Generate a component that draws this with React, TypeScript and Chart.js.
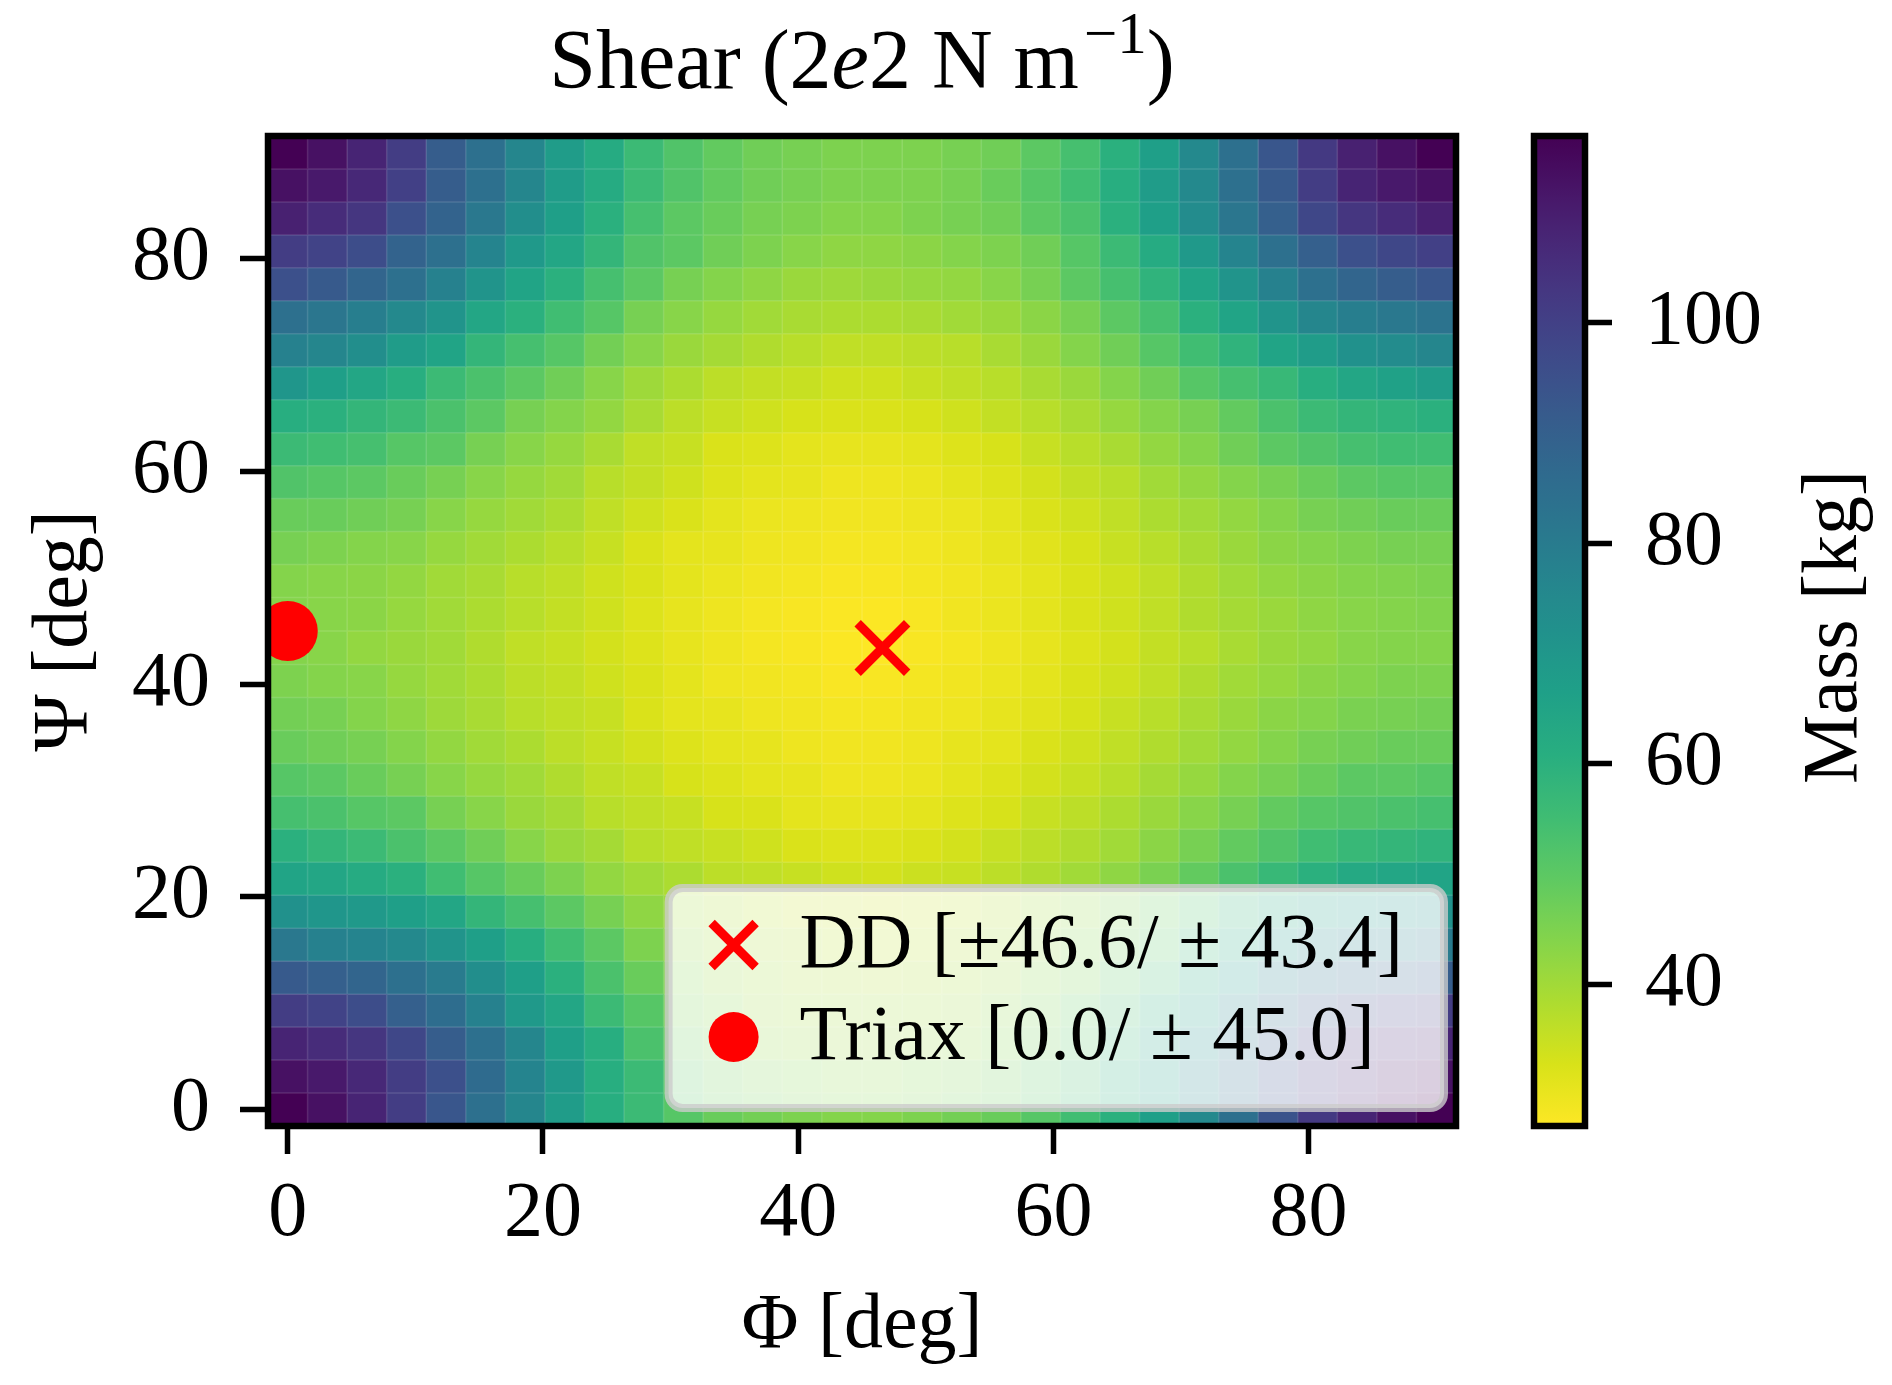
import React, { useEffect, useRef } from "react";
import { Chart, registerables } from "chart.js";

Chart.register(...registerables);

// cell centres (deg)
const PHI_DEG = [
  0.0, 3.1, 6.2, 9.3, 12.4, 15.5, 18.6, 21.7, 24.8, 27.9, 31.0, 34.1, 37.2, 40.3, 43.4,
  46.6, 49.7, 52.8, 55.9, 59.0, 62.1, 65.2, 68.3, 71.4, 74.5, 77.6, 80.7, 83.8, 86.9, 90.0,
];
// rows of MASS_KG, from the top row (90 deg) down to 0 deg
const PSI_DEG = [
  90.0, 86.9, 83.8, 80.7, 77.6, 74.5, 71.4, 68.3, 65.2, 62.1, 59.0, 55.9, 52.8, 49.7, 46.6,
  43.4, 40.3, 37.2, 34.1, 31.0, 27.9, 24.8, 21.7, 18.6, 15.5, 12.4, 9.3, 6.2, 3.1, 0.0,
];

const MASS_KG = [
  [117, 113, 108, 101, 91, 84, 76, 68, 62, 56, 52, 49, 47, 46, 45, 45, 45, 46, 47, 50, 54, 60, 67, 75, 84, 93, 102, 109, 113, 117],
  [113, 111, 107, 100, 91, 84, 76, 68, 62, 56, 52, 49, 47, 46, 45, 45, 45, 46, 48, 51, 55, 61, 68, 75, 84, 92, 101, 108, 111, 113],
  [109, 106, 103, 95, 89, 81, 73, 67, 60, 54, 50, 48, 46, 45, 44, 44, 45, 46, 47, 50, 53, 60, 67, 74, 82, 90, 98, 103, 106, 109],
  [101, 99, 96, 89, 84, 77, 69, 64, 58, 52, 50, 47, 45, 43.5, 42.5, 42.5, 43, 44, 45, 47, 51, 56, 62, 69, 77, 84, 90, 95, 98, 100],
  [95, 92, 88, 84, 78, 71, 65, 60, 54, 50, 46, 44, 42.5, 41, 40.5, 41, 41.5, 42, 43.5, 46, 50, 54, 59, 65, 71, 78, 84, 88, 91, 93],
  [84, 82, 79, 75, 71, 64, 60, 55, 51, 46, 43.5, 41.5, 40, 39, 38.5, 38.5, 39, 40, 41, 43, 46, 50, 54, 60, 65, 71, 76, 79, 81, 83],
  [78, 76, 73, 68, 65, 58, 54, 51, 46.5, 43.5, 41, 39.5, 38, 37, 36, 36, 36.5, 37, 39, 41, 44, 47, 51, 55, 59, 65, 68, 72, 74, 76],
  [70, 67, 64, 61, 56, 53, 50, 47, 43.5, 40.5, 38.5, 36.5, 35.5, 35, 34, 34, 35, 36, 37, 39, 41, 44, 47, 51, 54, 57, 61, 64, 66, 68],
  [61, 60, 58, 56, 53, 50, 46, 44, 42, 39, 36.5, 35, 34, 33, 32.5, 32.5, 33, 34, 35.5, 37, 39, 41.5, 44, 46, 49, 53, 56, 58, 59, 60],
  [56, 55, 54, 51, 50, 46, 43.5, 41.5, 39, 36, 35, 32.5, 32, 31, 30.5, 30.5, 31, 32, 33, 35, 37, 39, 42, 44, 47, 50, 52, 54, 55, 55],
  [52, 51, 50, 48, 46, 43.5, 41.5, 40, 37, 35.5, 34, 32, 31, 30.5, 29.5, 29.5, 30, 31, 32, 33.5, 35.5, 37, 40, 42, 44, 46, 48, 50, 51, 51],
  [48, 48, 47, 46, 43.5, 41.5, 40, 38.5, 36, 34, 32.5, 31, 30, 29.5, 29, 29, 29.5, 30, 31, 32.5, 34, 36, 38.5, 40, 42, 44, 46, 47, 48, 48],
  [46, 45, 44, 43.5, 41.5, 40, 38.5, 37, 35, 32.5, 31, 30.5, 29.5, 29, 28.5, 28.5, 28.8, 29.5, 30.5, 31.5, 33, 35, 37, 39, 41, 43, 44, 45, 46, 46],
  [44, 43.5, 43, 42, 40, 39, 37, 36, 34, 32.5, 31, 30, 29, 28.5, 28, 28, 28.5, 29, 30, 31, 32.5, 34, 36, 38, 40, 42, 43, 44, 44.5, 45],
  [44, 43.5, 43, 41.5, 40, 38.5, 37, 35.5, 34, 32, 30.5, 29.5, 28.5, 28, 27.6, 27.5, 28, 29, 30, 31, 32.5, 34, 36, 38, 39.5, 41, 42.5, 43.5, 44, 44.5],
  [44, 43.5, 42, 41, 40, 38, 36, 35, 33.5, 32, 30.5, 29.5, 28.5, 28, 27.5, 27.2, 28, 28.5, 29.5, 30.5, 32, 33.5, 35.5, 37, 39, 41, 42, 43.5, 44, 44],
  [45, 44, 43.5, 41.5, 40, 38.5, 36.5, 35.5, 34, 32.5, 31, 29.5, 29, 28.5, 27.8, 28, 28.5, 29, 30, 31, 32.5, 34, 36, 38, 40, 41.5, 43, 44, 45, 45],
  [46.5, 46, 44, 42.5, 40.5, 39, 37, 36, 35, 32.5, 31, 30.5, 29.5, 29, 28.5, 28.5, 29, 29.5, 30.5, 31.5, 33, 35, 37, 39, 41, 43, 44, 45.5, 46, 46.5],
  [48, 47, 46, 44, 42, 40, 38.5, 36.5, 35, 33.5, 32, 31, 30.5, 29.5, 29, 29, 29.5, 30.5, 31, 32.5, 34, 36, 38, 40, 42, 44, 46, 47, 48, 48],
  [51, 50, 48, 46, 43.5, 41.5, 40, 38, 36, 35, 33, 32, 31, 30.5, 29.5, 29.5, 30, 31, 32, 33.5, 35, 37, 39.5, 41.5, 44, 46, 48, 50, 50, 51],
  [54, 53, 51, 50, 46, 43.5, 41, 39.5, 37, 36, 35, 33, 32.5, 31, 30.5, 30.5, 31, 32, 33, 35, 36.5, 38.5, 41, 43.5, 46, 49, 51, 52, 53, 54],
  [60, 58, 56, 53, 50, 47, 43.5, 41, 39.5, 37, 36, 35, 34, 32.5, 32, 32, 32.5, 33.5, 35, 36.5, 38, 40, 43, 46, 49, 52, 55, 57, 58, 59],
  [65, 64, 62, 60, 55, 51, 48, 45, 42, 40, 38.5, 36.5, 36, 35, 34, 33.5, 34.5, 35, 36.5, 38, 40, 42.5, 45.5, 49, 53, 57, 60, 63, 64, 65],
  [72, 70, 69, 67, 64, 58, 54, 50, 46, 42.5, 40.5, 38.5, 37, 36, 35.5, 35, 35.5, 36.5, 38, 40, 42, 45, 48.5, 53, 58, 63, 67, 69, 70, 72],
  [81, 78, 77, 75, 71, 67, 61, 55, 50, 45, 42, 40, 39, 38, 37, 36.5, 37, 38, 39.5, 41.5, 44, 47, 51, 57, 63, 69, 74, 77, 78, 80],
  [92, 90, 88, 84, 80, 73, 67, 60, 53, 48, 44, 41.5, 40, 39, 38.5, 38, 38.5, 39.5, 41, 43.5, 46, 50, 55, 62, 69, 77, 83, 87, 89, 91],
  [101, 99, 96, 90, 85, 78, 69, 64, 56, 51, 46, 43.5, 41, 40.5, 40, 40, 40.5, 41, 43, 45.5, 49, 54, 60, 67, 75, 84, 92, 97, 99, 101],
  [108, 106, 103, 98, 91, 84, 76, 67, 61, 53, 48, 45, 42.5, 41.5, 41, 41, 41.5, 42.5, 44, 47, 51, 57, 64, 72, 81, 91, 99, 104, 106, 108],
  [113, 111, 107, 101, 95, 86, 77, 69, 61, 56, 50, 47, 45, 44, 43, 43, 44, 45, 47, 50, 54, 60, 67, 75, 84, 94, 102, 107, 111, 113],
  [117, 113, 108, 101, 93, 84, 76, 68, 61, 56, 51, 48, 46.5, 45, 44, 44, 45, 46.5, 48, 51, 55, 60, 67, 75, 84, 94, 102, 108, 113, 117],
];

const X_TICKS = [0, 20, 40, 60, 80];
const Y_TICKS = [0, 20, 40, 60, 80];
const MASS_TICKS = [40, 60, 80, 100];
const MASS_MIN = 27.2;
const MASS_MAX = 116.9;

const DD = { label: "DD [±46.6/ ± 43.4]", phi: 46.6, psi: 43.4 };
const TRIAX = { label: "Triax [0.0/ ± 45.0]", phi: 0.0, psi: 45.0 };

const TITLE_PARTS = [
  { text: "Shear (2", style: "normal" },
  { text: "e", style: "italic" },
  { text: "2 N m", style: "normal" },
  { text: "−1", style: "sup" },
  { text: ")", style: "normal" },
];

const FONT = '"Liberation Serif", "DejaVu Serif", serif';
const FS = 78;
const TITLE_FS = 84;
const RED = "#ff0000";
const SPINE = 6.5;

// viridis, reversed when used (low mass = yellow)
const VIRIDIS = [
  "#440154", "#48186a", "#472d7b", "#424086", "#3b528b", "#33638d", "#2c728e", "#26828e",
  "#21918c", "#1fa088", "#28ae80", "#3fbc73", "#5ec962", "#84d44b", "#addc30", "#d8e219", "#fde725",
];

const hexRgb = (h: string) => [1, 3, 5].map((i) => parseInt(h.slice(i, i + 2), 16));

function massColor(v: number) {
  const t = Math.min(1, Math.max(0, (v - MASS_MIN) / (MASS_MAX - MASS_MIN)));
  const p = (1 - t) * (VIRIDIS.length - 1);
  const i = Math.min(VIRIDIS.length - 2, Math.floor(p));
  const f = p - i;
  const a = hexRgb(VIRIDIS[i]);
  const b = hexRgb(VIRIDIS[i + 1]);
  const c = a.map((av, k) => Math.round(av + (b[k] - av) * f));
  return `rgb(${c[0]},${c[1]},${c[2]})`;
}

// cell boundaries half way between centres
function cellEdges(c: number[]) {
  const e = [c[0] - (c[1] - c[0]) / 2];
  for (let i = 1; i < c.length; i++) e.push((c[i - 1] + c[i]) / 2);
  e.push(c[c.length - 1] + (c[c.length - 1] - c[c.length - 2]) / 2);
  return e;
}

const PHI_EDGES = cellEdges(PHI_DEG);
const PSI_EDGES = cellEdges(PSI_DEG);

const heatmap = {
  id: "heatmap",
  beforeDatasetsDraw(chart: any) {
    const { ctx, chartArea: a, scales } = chart;
    const x = scales.x;
    const y = scales.y;
    ctx.save();
    ctx.beginPath();
    ctx.rect(a.left, a.top, a.right - a.left, a.bottom - a.top);
    ctx.clip();
    MASS_KG.forEach((row, r) => {
      const y0 = y.getPixelForValue(PSI_EDGES[r]);
      const y1 = y.getPixelForValue(PSI_EDGES[r + 1]);
      row.forEach((v, c) => {
        const x0 = x.getPixelForValue(PHI_EDGES[c]);
        const x1 = x.getPixelForValue(PHI_EDGES[c + 1]);
        ctx.fillStyle = massColor(v);
        ctx.fillRect(Math.min(x0, x1), Math.min(y0, y1), Math.abs(x1 - x0) + 0.7, Math.abs(y1 - y0) + 0.7);
      });
    });
    // faint seams between cells
    ctx.strokeStyle = "rgba(255,255,255,0.13)";
    ctx.lineWidth = 1.5;
    ctx.beginPath();
    PHI_EDGES.slice(1, -1).forEach((e) => {
      const px = x.getPixelForValue(e);
      ctx.moveTo(px, a.top);
      ctx.lineTo(px, a.bottom);
    });
    PSI_EDGES.slice(1, -1).forEach((e) => {
      const py = y.getPixelForValue(e);
      ctx.moveTo(a.left, py);
      ctx.lineTo(a.right, py);
    });
    ctx.stroke();
    ctx.restore();
  },
};

const frame = {
  id: "frame",
  afterDatasetsDraw(chart: any) {
    const { ctx, chartArea: a } = chart;
    ctx.save();
    ctx.strokeStyle = "#000";
    ctx.lineWidth = SPINE;
    ctx.strokeRect(a.left, a.top, a.right - a.left, a.bottom - a.top);
    ctx.restore();
  },
};

const legendBox = {
  id: "legendBox",
  afterDraw(chart: any) {
    const { ctx, chartArea: a } = chart;
    const sets = chart.data.datasets;
    ctx.save();
    ctx.font = `${FS}px ${FONT}`;
    const textW = Math.max(...sets.map((d: any) => ctx.measureText(d.label).width));
    const w = 131 + textW + 41;
    const h = 220;
    const right = a.right - 12;
    const bottom = a.bottom - 18;
    const left = right - w;
    const top = bottom - h;
    ctx.beginPath();
    ctx.roundRect(left, top, w, h, 14);
    ctx.fillStyle = "rgba(255,255,255,0.8)";
    ctx.fill();
    ctx.strokeStyle = "rgba(204,204,204,0.8)";
    ctx.lineWidth = 8;
    ctx.stroke();
    sets.forEach((d: any, i: number) => {
      const cy = top + 57 + i * 92;
      const mx = left + 65;
      if (d.pointStyle === "crossRot") {
        ctx.strokeStyle = RED;
        ctx.lineWidth = 9;
        ctx.beginPath();
        ctx.moveTo(mx - 22, cy - 22);
        ctx.lineTo(mx + 22, cy + 22);
        ctx.moveTo(mx - 22, cy + 22);
        ctx.lineTo(mx + 22, cy - 22);
        ctx.stroke();
      } else {
        ctx.fillStyle = RED;
        ctx.beginPath();
        ctx.arc(mx, cy, 25, 0, Math.PI * 2);
        ctx.fill();
      }
      ctx.fillStyle = "#000";
      ctx.textAlign = "left";
      ctx.textBaseline = "middle";
      ctx.fillText(d.label, left + 131, cy + 2);
    });
    ctx.restore();
  },
};

const plotTitle = {
  id: "plotTitle",
  afterDraw(chart: any) {
    const { ctx, chartArea: a } = chart;
    const fontOf = (s: string) =>
      s === "italic"
        ? `italic ${TITLE_FS}px ${FONT}`
        : s === "sup"
          ? `${Math.round(TITLE_FS * 0.7)}px ${FONT}`
          : `${TITLE_FS}px ${FONT}`;
    ctx.save();
    let total = 0;
    const widths = TITLE_PARTS.map((p) => {
      ctx.font = fontOf(p.style);
      const wd = ctx.measureText(p.text).width + (p.style === "sup" ? 5 : 0);
      total += wd;
      return wd;
    });
    let x = (a.left + a.right) / 2 - total / 2;
    const base = 88;
    ctx.fillStyle = "#000";
    ctx.textAlign = "left";
    ctx.textBaseline = "alphabetic";
    TITLE_PARTS.forEach((p, i) => {
      ctx.font = fontOf(p.style);
      ctx.fillText(p.text, x + (p.style === "sup" ? 5 : 0), p.style === "sup" ? base - TITLE_FS * 0.42 : base);
      x += widths[i];
    });
    ctx.restore();
  },
};

const barFrame = {
  id: "barFrame",
  afterDatasetsDraw(chart: any) {
    const { ctx, chartArea: a } = chart;
    ctx.save();
    ctx.strokeStyle = "#000";
    ctx.lineWidth = SPINE;
    ctx.strokeRect(a.left, a.top, a.right - a.left, a.bottom - a.top);
    ctx.restore();
  },
  afterDraw(chart: any) {
    const { ctx, chartArea: a } = chart;
    ctx.save();
    ctx.translate(chart.width - 56, (a.top + a.bottom) / 2 - 4);
    ctx.rotate(-Math.PI / 2);
    ctx.font = `${FS}px ${FONT}`;
    ctx.fillStyle = "#000";
    ctx.textAlign = "center";
    ctx.textBaseline = "middle";
    ctx.fillText("Mass [kg]", 0, 0);
    ctx.restore();
  },
};

const tickFont = { family: FONT, size: FS };

const App = () => {
  const mainRef = useRef<HTMLCanvasElement>(null);
  const barRef = useRef<HTMLCanvasElement>(null);

  useEffect(() => {
    if (!mainRef.current || !barRef.current) return;

    const main = new Chart(mainRef.current, {
      type: "scatter",
      data: {
        datasets: [
          {
            label: DD.label,
            data: [{ x: DD.phi, y: DD.psi }],
            pointStyle: "crossRot",
            pointRadius: 35,
            pointBorderWidth: 9,
            pointBorderColor: RED,
            pointBackgroundColor: RED,
            clip: 0,
          },
          {
            label: TRIAX.label,
            data: [{ x: TRIAX.phi, y: TRIAX.psi }],
            pointStyle: "circle",
            pointRadius: 30,
            pointBorderWidth: 0,
            pointBorderColor: RED,
            pointBackgroundColor: RED,
            clip: 0,
          },
        ],
      },
      options: {
        responsive: false,
        animation: false,
        devicePixelRatio: 1,
        events: [],
        layout: { padding: { top: 136, right: 40, bottom: 0, left: 0 } },
        plugins: { legend: { display: false }, tooltip: { enabled: false } },
        scales: {
          x: {
            type: "linear",
            min: PHI_EDGES[0],
            max: PHI_EDGES[PHI_EDGES.length - 1],
            afterBuildTicks: (s: any) => {
              s.ticks = X_TICKS.map((value) => ({ value }));
            },
            afterFit: (s: any) => {
              s.height = 259;
            },
            grid: { drawOnChartArea: false, drawTicks: true, tickLength: 28, tickWidth: 5.5, tickColor: "#000" },
            border: { display: false },
            ticks: { color: "#000", font: tickFont, padding: 14, maxRotation: 0 },
            title: { display: true, text: "Φ [deg]", color: "#000", font: tickFont, padding: { top: 0, bottom: 12 } },
          },
          y: {
            type: "linear",
            min: PSI_EDGES[PSI_EDGES.length - 1],
            max: PSI_EDGES[0],
            afterBuildTicks: (s: any) => {
              s.ticks = Y_TICKS.map((value) => ({ value }));
            },
            afterFit: (s: any) => {
              s.width = 268;
            },
            grid: { drawOnChartArea: false, drawTicks: true, tickLength: 28, tickWidth: 5.5, tickColor: "#000" },
            border: { display: false },
            ticks: { color: "#000", font: tickFont, padding: 30 },
            title: { display: true, text: "Ψ [deg]", color: "#000", font: tickFont, padding: { top: 19, bottom: 0 } },
          },
        },
      },
      plugins: [heatmap, frame, legendBox, plotTitle],
    });

    const bar = new Chart(barRef.current, {
      type: "bar",
      data: {
        labels: ["Mass"],
        datasets: [
          {
            data: [[MASS_MIN, MASS_MAX]],
            barPercentage: 1,
            categoryPercentage: 1,
            borderWidth: 0,
            backgroundColor: (c: any) => {
              const { chart } = c;
              if (!chart.chartArea) return massColor(MASS_MIN);
              const ys = chart.scales.y;
              const g = chart.ctx.createLinearGradient(0, ys.getPixelForValue(MASS_MIN), 0, ys.getPixelForValue(MASS_MAX));
              for (let k = 0; k <= 32; k++) {
                g.addColorStop(k / 32, massColor(MASS_MIN + ((MASS_MAX - MASS_MIN) * k) / 32));
              }
              return g;
            },
          },
        ],
      },
      options: {
        responsive: false,
        animation: false,
        devicePixelRatio: 1,
        events: [],
        layout: { padding: { top: 136, right: 0, bottom: 259, left: 34 } },
        plugins: { legend: { display: false }, tooltip: { enabled: false } },
        scales: {
          x: { display: false },
          y: {
            position: "right",
            min: MASS_MIN,
            max: MASS_MAX,
            afterBuildTicks: (s: any) => {
              s.ticks = MASS_TICKS.map((value) => ({ value }));
            },
            afterFit: (s: any) => {
              s.width = 307;
            },
            grid: { drawOnChartArea: false, drawTicks: true, tickLength: 27, tickWidth: 5.5, tickColor: "#000" },
            border: { display: false },
            ticks: { color: "#000", font: tickFont, padding: 33 },
          },
        },
      },
      plugins: [barFrame],
    });

    return () => {
      main.destroy();
      bar.destroy();
    };
  }, []);

  return (
    <div style={{ position: "absolute", left: 0, top: 0, width: 1892, height: 1385, background: "#fff" }}>
      <canvas ref={mainRef} width={1500} height={1385} style={{ position: "absolute", left: 0, top: 0 }} />
      <canvas ref={barRef} width={392} height={1385} style={{ position: "absolute", left: 1500, top: 0 }} />
    </div>
  );
};

export default App;
